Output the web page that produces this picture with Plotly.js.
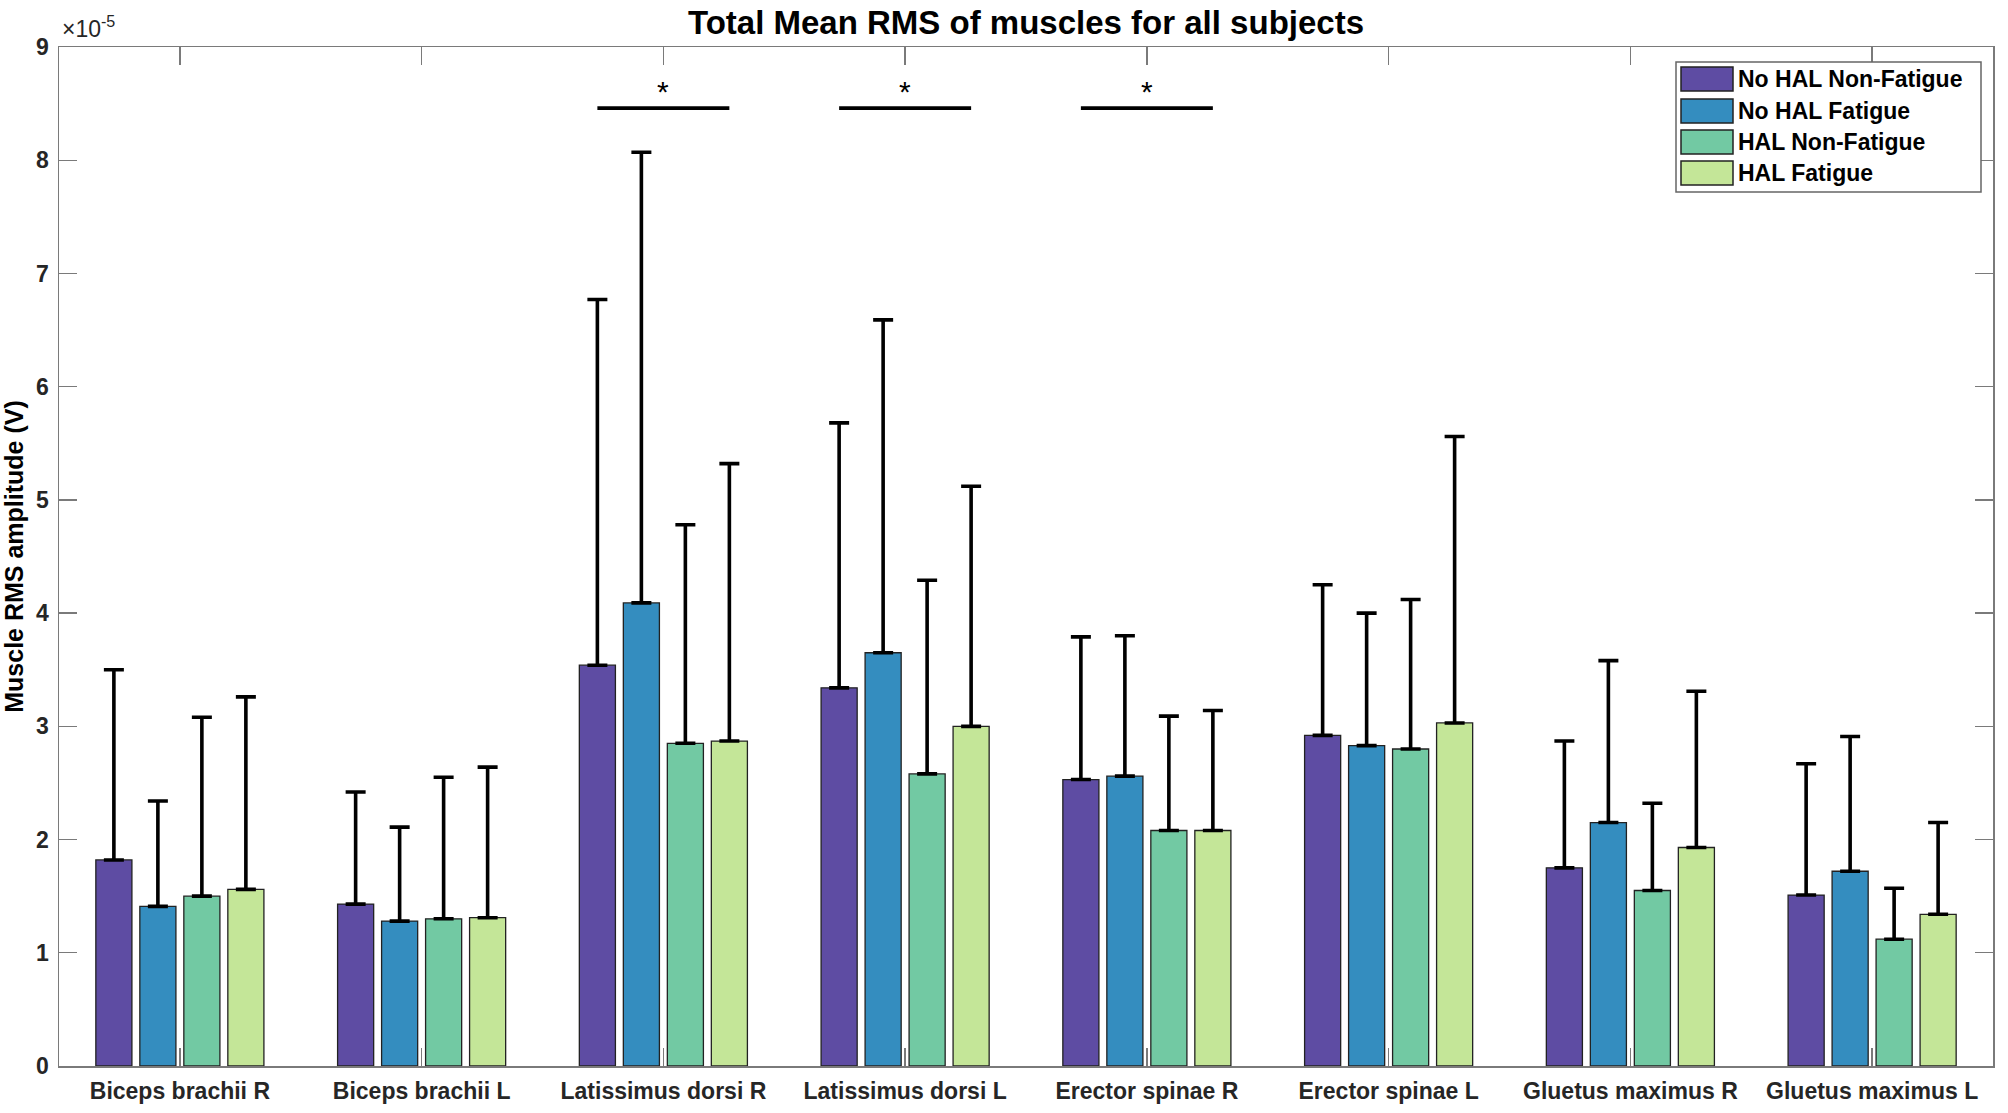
<!DOCTYPE html>
<html>
<head>
<meta charset="utf-8">
<script src="https://cdn.plot.ly/plotly-3.0.1.min.js"></script>
<style>
  html, body { margin: 0; padding: 0; background: #fff; }
  #chart { width: 2008px; height: 1113px; }
</style>
</head>
<body>
<div id="chart"></div>
<script>
// ---- Data (values in units of 1e-5 V) ----
const categories = ['Biceps brachii R', 'Biceps brachii L', 'Latissimus dorsi R', 'Latissimus dorsi L',
                    'Erector spinae R', 'Erector spinae L', 'Gluetus maximus R', 'Gluetus maximus L'];
const seriesNames = ['No HAL Non-Fatigue', 'No HAL Fatigue', 'HAL Non-Fatigue', 'HAL Fatigue'];
const seriesColors = ['#5E4CA3', '#348DBF', '#72C9A3', '#C4E698'];

const meanNoHalNonFatigue = [1.82, 1.43, 3.54, 3.34, 2.53, 2.92, 1.75, 1.51];
const meanNoHalFatigue    = [1.41, 1.28, 4.09, 3.65, 2.56, 2.83, 2.15, 1.72];
const meanHalNonFatigue   = [1.50, 1.30, 2.85, 2.58, 2.08, 2.80, 1.55, 1.12];
const meanHalFatigue      = [1.56, 1.31, 2.87, 3.00, 2.08, 3.03, 1.93, 1.34];

const sdNoHalNonFatigue = [1.68, 0.99, 3.23, 2.34, 1.26, 1.33, 1.12, 1.16];
const sdNoHalFatigue    = [0.93, 0.83, 3.98, 2.94, 1.24, 1.17, 1.43, 1.19];
const sdHalNonFatigue   = [1.58, 1.25, 1.93, 1.71, 1.01, 1.32, 0.77, 0.45];
const sdHalFatigue      = [1.70, 1.33, 2.45, 2.12, 1.06, 2.53, 1.38, 0.81];

const sigCategories = ['Latissimus dorsi R', 'Latissimus dorsi L', 'Erector spinae R'];
const sigLevel = 8.46;
const sigLabel = '*';

const yTickValues = [0, 1, 2, 3, 4, 5, 6, 7, 8, 9];
const exponentLabel = '\u00D710<sup>-5</sup>';

// ---- Layout constants ----
const W = 2008, H = 1113;
const M = { l: 59, r: 15, t: 47, b: 47 };
const PW = W - M.l - M.r, PH = H - M.t - M.b;
const px2x = px => (px - M.l) / PW;
const py2y = py => (H - M.b - py) / PH;
const BARGAP = 0.272, BARGROUPGAP = 0.18;
const FONT = '"Liberation Sans", Arial, Helvetica, sans-serif';

const means = [meanNoHalNonFatigue, meanNoHalFatigue, meanHalNonFatigue, meanHalFatigue];
const sds = [sdNoHalNonFatigue, sdNoHalFatigue, sdHalNonFatigue, sdHalFatigue];

const traces = seriesNames.map((name, i) => ({
  type: 'bar',
  name: name,
  x: categories,
  y: means[i],
  marker: { color: seriesColors[i], line: { color: '#222', width: 1.3 } },
  error_y: {
    type: 'data', symmetric: false,
    array: sds[i],
    arrayminus: sds[i].map(() => 0),
    color: '#000', thickness: 3.6, width: 10
  },
  showlegend: false,
  hoverinfo: 'x+y'
}));

// significance bars: from first-bar centre to last-bar centre of each group
const groupW = 1 - BARGAP;
const slot = groupW / seriesNames.length;
const firstOff = -groupW / 2 + slot / 2;
const lastOff = groupW / 2 - slot / 2;

const shapes = [];
const annotations = [];
sigCategories.forEach(c => {
  const idx = categories.indexOf(c);
  shapes.push({
    type: 'line', xref: 'x', yref: 'y',
    x0: idx + firstOff, x1: idx + lastOff, y0: sigLevel, y1: sigLevel,
    line: { color: '#000', width: 3.6 }
  });
  annotations.push({
    xref: 'x', yref: 'y', x: idx, y: sigLevel, text: sigLabel, showarrow: false,
    yanchor: 'bottom', yshift: -2, font: { family: FONT, size: 30, color: '#000' }
  });
});

// exponent label
annotations.push({
  xref: 'paper', yref: 'paper', x: 0, y: 1, xanchor: 'left', yanchor: 'bottom',
  xshift: 1, yshift: 3, text: exponentLabel, showarrow: false,
  font: { family: FONT, size: 23, color: '#262626' }
});

// custom MATLAB-style legend
const leg = { x0: 1676, x1: 1981, y0: 62, y1: 192, rows: [79, 111, 142, 173], sw0: 1681, sw1: 1733, swH: 24, tx: 1736 };
shapes.push({
  type: 'rect', xref: 'paper', yref: 'paper',
  x0: px2x(leg.x0), x1: px2x(leg.x1), y0: py2y(leg.y1), y1: py2y(leg.y0),
  fillcolor: '#fff', line: { color: '#666', width: 1.5 }, layer: 'above'
});
seriesNames.forEach((name, i) => {
  const cy = leg.rows[i];
  shapes.push({
    type: 'rect', xref: 'paper', yref: 'paper',
    x0: px2x(leg.sw0), x1: px2x(leg.sw1), y0: py2y(cy + leg.swH / 2), y1: py2y(cy - leg.swH / 2),
    fillcolor: seriesColors[i], line: { color: '#222', width: 1.5 }, layer: 'above'
  });
  annotations.push({
    xref: 'paper', yref: 'paper', x: px2x(leg.tx), y: py2y(cy),
    xanchor: 'left', yanchor: 'middle', text: name, showarrow: false,
    font: { family: FONT, size: 23, color: '#000', weight: 'bold' }
  });
});

const axisCommon = {
  showline: true, linecolor: '#7a7a7a', linewidth: 1.5, mirror: 'ticks',
  ticks: 'inside', ticklen: 18, tickwidth: 1.3, tickcolor: '#7a7a7a',
  showgrid: false, zeroline: false
};

const layout = {
  width: W, height: H,
  margin: M,
  paper_bgcolor: '#fff', plot_bgcolor: '#fff',
  barmode: 'group', bargap: BARGAP, bargroupgap: BARGROUPGAP,
  title: {
    text: 'Total Mean RMS of muscles for all subjects',
    xref: 'paper', x: 0.5, xanchor: 'center',
    yref: 'container', y: 1 - 22 / H, yanchor: 'middle',
    font: { family: FONT, size: 33, color: '#000', weight: 'bold' }
  },
  xaxis: Object.assign({}, axisCommon, {
    type: 'category', range: [-0.5, 7.5],
    tickfont: { family: FONT, size: 23, color: '#262626', weight: 'bold' },
    ticklabelstandoff: 4
  }),
  yaxis: Object.assign({}, axisCommon, {
    range: [0, 9], tickvals: yTickValues, ticktext: yTickValues.map(String),
    tickfont: { family: FONT, size: 23, color: '#262626', weight: 'bold' },
    ticklabelstandoff: 4,
    title: { text: 'Muscle RMS amplitude (V)', standoff: 8,
             font: { family: FONT, size: 25, color: '#000', weight: 'bold' } }
  }),
  shapes: shapes,
  annotations: annotations
};

Plotly.newPlot('chart', traces, layout, { displayModeBar: false, staticPlot: true });
</script>
</body>
</html>
